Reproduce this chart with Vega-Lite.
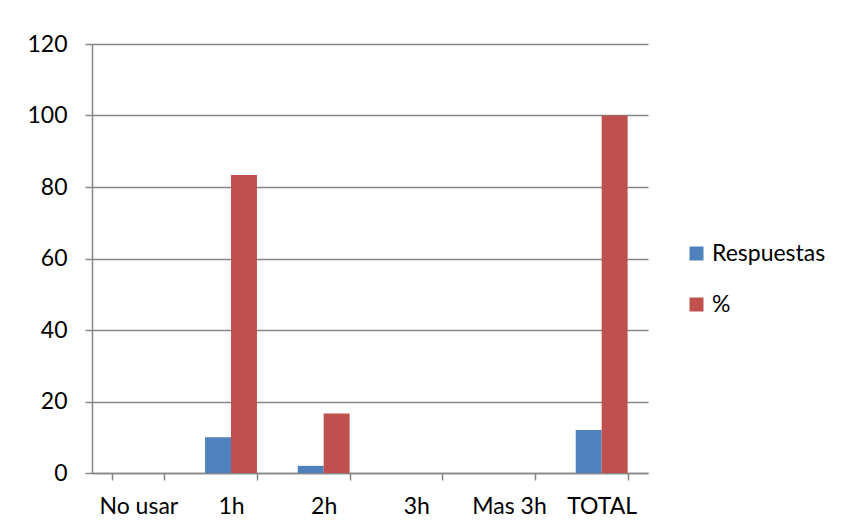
{
  "$schema": "https://vega.github.io/schema/vega-lite/v6.json",
  "width": 556,
  "height": 429,
  "autosize": {"type": "none"},
  "padding": {"left": 92, "top": 44, "right": 198, "bottom": 58},
  "background": "white",
  "config": {
    "view": {"stroke": null},
    "font": "Lato"
  },
  "data": {
    "values": [
      {"cat": "No usar", "serie": "Respuestas", "valor": 0},
      {"cat": "No usar", "serie": "%", "valor": 0},
      {"cat": "1h", "serie": "Respuestas", "valor": 10},
      {"cat": "1h", "serie": "%", "valor": 83.33},
      {"cat": "2h", "serie": "Respuestas", "valor": 2},
      {"cat": "2h", "serie": "%", "valor": 16.67},
      {"cat": "3h", "serie": "Respuestas", "valor": 0},
      {"cat": "3h", "serie": "%", "valor": 0},
      {"cat": "Mas 3h", "serie": "Respuestas", "valor": 0},
      {"cat": "Mas 3h", "serie": "%", "valor": 0},
      {"cat": "TOTAL", "serie": "Respuestas", "valor": 12},
      {"cat": "TOTAL", "serie": "%", "valor": 100}
    ]
  },
  "mark": {"type": "bar"},
  "encoding": {
    "x": {
      "field": "cat",
      "type": "nominal",
      "sort": ["No usar", "1h", "2h", "3h", "Mas 3h", "TOTAL"],
      "scale": {"paddingInner": 0.44, "paddingOuter": 0.22},
      "axis": {
        "title": null,
        "labelAngle": 0,
        "tickBand": "extent",
        "grid": false,
        "domainColor": "#868686",
        "domainWidth": 1.5,
        "tickColor": "#868686",
        "tickWidth": 1.5,
        "tickSize": 7,
        "labelFontSize": 23,
        "labelColor": "black",
        "labelPadding": 15
      }
    },
    "xOffset": {"field": "serie", "sort": ["Respuestas", "%"]},
    "y": {
      "field": "valor",
      "type": "quantitative",
      "scale": {"domain": [0, 120]},
      "axis": {
        "title": null,
        "values": [0, 20, 40, 60, 80, 100, 120],
        "grid": true,
        "gridColor": "#868686",
        "gridWidth": 1.5,
        "domainColor": "#868686",
        "domainWidth": 1.5,
        "tickColor": "#868686",
        "tickWidth": 1.5,
        "tickSize": 7,
        "labelFontSize": 23,
        "labelColor": "black",
        "labelPadding": 18
      }
    },
    "color": {
      "field": "serie",
      "type": "nominal",
      "scale": {"domain": ["Respuestas", "%"], "range": ["#4F81BD", "#C0504D"]},
      "legend": {
        "title": null,
        "orient": "none",
        "legendX": 593,
        "legendY": 198,
        "padding": 0,
        "symbolType": "square",
        "symbolSize": 196,
        "symbolStrokeWidth": 0,
        "symbolOpacity": 1,
        "labelFontSize": 23,
        "labelColor": "black",
        "labelOffset": 4,
        "rowPadding": 27
      }
    }
  }
}
